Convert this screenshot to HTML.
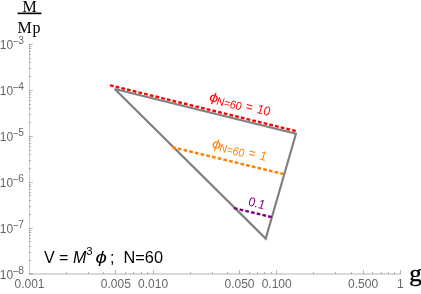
<!DOCTYPE html>
<html><head><meta charset="utf-8"><title>plot</title>
<style>
html,body{margin:0;padding:0;background:#fff;}
body{width:421px;height:294px;overflow:hidden;font-family:"Liberation Sans",sans-serif;}
svg{display:block;will-change:transform;}
text{font-family:"Liberation Sans",sans-serif;}
.tk{fill:#666;font-size:12px;}
.sup{font-size:10.2px;}
.ser{font-family:"Liberation Serif",serif;fill:#000;}
</style></head><body>
<svg width="421" height="294" viewBox="0 0 421 294">
<rect width="421" height="294" fill="#fff"/>

<path d="M29 274.0H400.8" stroke="#666" stroke-width="0.5" fill="none"/>
<path d="M29.5 274.0V44" stroke="#666" stroke-width="0.36" fill="none"/>
<g stroke="#666" stroke-width="0.46" fill="none">
<path d="M66.5 274.0v-2.0M88.5 274.0v-2.0M103.5 274.0v-2.0M115.5 274.0v-4.0M125.5 274.0v-2.0M133.5 274.0v-2.0M141.5 274.0v-2.0M147.5 274.0v-2.0M153.5 274.0v-4.0M190.5 274.0v-2.0M212.5 274.0v-2.0M227.5 274.0v-2.0M239.5 274.0v-4.0M249.5 274.0v-2.0M257.5 274.0v-2.0M264.5 274.0v-2.0M271.5 274.0v-2.0M276.5 274.0v-4.0M313.5 274.0v-2.0M335.5 274.0v-2.0M351.5 274.0v-2.0M363.5 274.0v-4.0M372.5 274.0v-2.0M381.5 274.0v-2.0M388.5 274.0v-2.0M394.5 274.0v-2.0M400.5 274.0v-4.0"/>
<path d="M29 273.8h3.8M29 260.5h2.1M29 252.5h2.1M29 246.5h2.1M29 241.5h2.1M29 238.5h2.1M29 235.5h2.1M29 232.5h2.1M29 230.5h2.1M29 228.5h3.8M29 214.5h2.1M29 206.5h2.1M29 200.5h2.1M29 195.5h2.1M29 192.5h2.1M29 189.5h2.1M29 186.5h2.1M29 184.5h2.1M29 182.5h3.8M29 168.5h2.1M29 160.5h2.1M29 154.5h2.1M29 150.5h2.1M29 146.5h2.1M29 143.5h2.1M29 140.5h2.1M29 138.5h2.1M29 136.5h3.8M29 122.5h2.1M29 114.5h2.1M29 108.5h2.1M29 104.5h2.1M29 100.5h2.1M29 97.5h2.1M29 94.5h2.1M29 92.5h2.1M29 90.5h3.8M29 76.5h2.1M29 68.5h2.1M29 62.5h2.1M29 58.5h2.1M29 54.5h2.1M29 51.5h2.1M29 48.5h2.1M29 46.5h2.1M29 44.5h3.8"/>
</g>
<text class="tk" x="29.50" y="287.7" text-anchor="middle">0.001</text>
<text class="tk" x="115.89" y="287.7" text-anchor="middle">0.005</text>
<text class="tk" x="153.10" y="287.7" text-anchor="middle">0.010</text>
<text class="tk" x="239.49" y="287.7" text-anchor="middle">0.050</text>
<text class="tk" x="276.70" y="287.7" text-anchor="middle">0.100</text>
<text class="tk" x="363.09" y="287.7" text-anchor="middle">0.500</text>
<text class="tk" x="400.30" y="287.7" text-anchor="middle">1</text>
<text class="tk" x="-0.2" y="279.00">10<tspan class="sup" dy="-3.6" dx="-0.45">−</tspan><tspan class="sup" dy="-1" dx="-0.3">8</tspan></text>
<text class="tk" x="-0.2" y="233.00">10<tspan class="sup" dy="-3.6" dx="-0.45">−</tspan><tspan class="sup" dy="-1" dx="-0.3">7</tspan></text>
<text class="tk" x="-0.2" y="187.00">10<tspan class="sup" dy="-3.6" dx="-0.45">−</tspan><tspan class="sup" dy="-1" dx="-0.3">6</tspan></text>
<text class="tk" x="-0.2" y="141.00">10<tspan class="sup" dy="-3.6" dx="-0.45">−</tspan><tspan class="sup" dy="-1" dx="-0.3">5</tspan></text>
<text class="tk" x="-0.2" y="95.00">10<tspan class="sup" dy="-3.6" dx="-0.45">−</tspan><tspan class="sup" dy="-1" dx="-0.3">4</tspan></text>
<text class="tk" x="-0.2" y="49.00">10<tspan class="sup" dy="-3.6" dx="-0.45">−</tspan><tspan class="sup" dy="-1" dx="-0.3">3</tspan></text>
<text class="ser" x="29.5" y="11.9" font-size="16" text-anchor="middle">M</text>
<rect x="17.6" y="12.55" width="23.8" height="1.65" fill="#000"/>
<text class="ser" x="29.4" y="32.9" font-size="16" text-anchor="middle" letter-spacing="0.7">Mp</text>
<text class="ser" transform="translate(409.2 280.6) scale(1.09 1)" font-size="23" stroke="#000" stroke-width="0.35">g</text>
<path d="M114.75 89.05L295.95 133.7L265.7 238.6Z" fill="none" stroke="#808080" stroke-width="2.15" stroke-linejoin="miter" stroke-miterlimit="3.25"/>
<path d="M110.00 85.30L295.67 131.02" fill="none" stroke="#ff0000" stroke-width="2.4" stroke-dasharray="3.7 2.16"/>
<path d="M172.10 147.10L283.92 174.13" fill="none" stroke="#ff8000" stroke-width="2.4" stroke-dasharray="3.7 2.16"/>
<path d="M233.90 208.10L271.71 217.08" fill="none" stroke="#800080" stroke-width="2.4" stroke-dasharray="3.7 2.16"/>
<g transform="translate(209.3 101.3) rotate(13.8) skewX(6) scale(1 1.08)" fill="#ff0000" font-size="12" font-style="italic"><text transform="translate(-0.4 -0.4) scale(1.35 1.0)">ϕ</text><text x="7.3"><tspan font-size="10.5" dy="1.3">N=60</tspan><tspan dy="-1.3" dx="1.0"> =</tspan><tspan dx="1.2"> 10</tspan></text></g>
<g transform="translate(212.1 148.0) rotate(13.8) skewX(6) scale(1 1.08)" fill="#ff8000" font-size="12" font-style="italic"><text transform="translate(-0.4 -0.4) scale(1.35 1.0)">ϕ</text><text x="7.3"><tspan font-size="10.5" dy="1.3">N=60</tspan><tspan dy="-1.3" dx="1.0"> =</tspan><tspan dx="1.2"> 1</tspan></text></g>
<g transform="translate(248 205.5) rotate(13.8) skewX(6) scale(1 1.08)" fill="#800080" font-size="12" font-style="italic"><text>0.1</text></g>
<g font-size="16" fill="#000">
<text x="44" y="263">V = <tspan font-style="italic">M</tspan><tspan font-size="11.4" dy="-7.7">3</tspan></text>
<text transform="translate(95.4 263) scale(1.28 1.06)" font-style="italic">ϕ</text>
<text x="110" y="263">;</text>
<text x="123.6" y="263" font-size="16.3">N=60</text>
</g>
</svg></body></html>
